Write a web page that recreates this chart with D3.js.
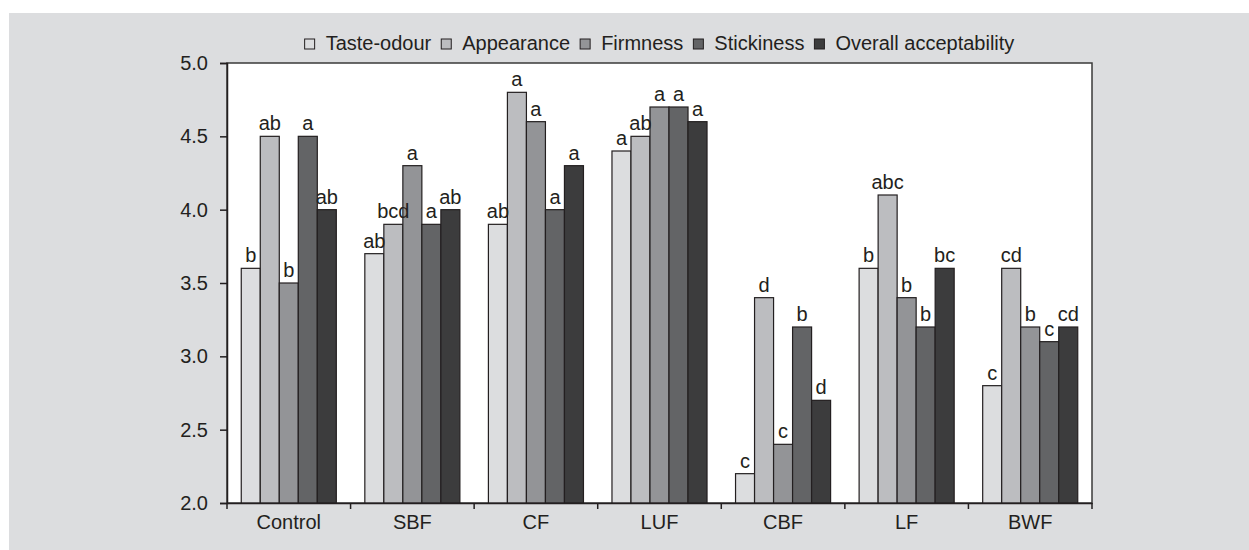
<!DOCTYPE html>
<html><head><meta charset="utf-8">
<script src="https://cdn.jsdelivr.net/npm/d3@7"></script>
<style>body{margin:0;background:#fff;} svg{display:block;font-family:"Liberation Sans",Arial,sans-serif;}</style>
</head><body>
<svg id="c" width="1249" height="550"></svg>
<script>
const categories = ["Control","SBF","CF","LUF","CBF","LF","BWF"];
const seriesNames = ["Taste-odour","Appearance","Firmness","Stickiness","Overall acceptability"];
const tasteOdour = [3.6,3.7,3.9,4.4,2.2,3.6,2.8];
const appearance = [4.5,3.9,4.8,4.5,3.4,4.1,3.6];
const firmness = [3.5,4.3,4.6,4.7,2.4,3.4,3.2];
const stickiness = [4.5,3.9,4.0,4.7,3.2,3.2,3.1];
const overall = [4.0,4.0,4.3,4.6,2.7,3.6,3.2];
const labTaste = ["b","ab","ab","a","c","b","c"];
const labAppear = ["ab","bcd","a","ab","d","abc","cd"];
const labFirm = ["b","a","a","a","c","b","b"];
const labStick = ["a","a","a","a","b","b","c"];
const labOverall = ["ab","ab","a","a","d","bc","cd"];
const yTicks = [2.0,2.5,3.0,3.5,4.0,4.5,5.0];

const values = [tasteOdour, appearance, firmness, stickiness, overall];
const labels = [labTaste, labAppear, labFirm, labStick, labOverall];
const colors = ["#dcdddf","#bcbdc0","#939497","#636466","#3c3c3d"];
const ink = "#231f20";

const svg = d3.select("#c");
svg.append("rect").attr("x",9).attr("y",13).attr("width",1240).attr("height",537).attr("fill","#dcdddf");

const m = {l:227, r:1092, t:63, b:503};
const x0 = d3.scaleBand().domain(categories).range([m.l, m.r]).paddingInner(0).paddingOuter(0);
const x1 = d3.scaleBand().domain(seriesNames).range([0, x0.bandwidth()]).paddingInner(0).paddingOuter(0.75);
const y = d3.scaleLinear().domain([2,5]).range([m.b, m.t]);

svg.append("rect").attr("x",m.l).attr("y",m.t).attr("width",m.r-m.l).attr("height",m.b-m.t)
  .attr("fill","#fff").attr("stroke","#3a3a3a").attr("stroke-width",1.5);

const data = [];
categories.forEach((c,i)=>seriesNames.forEach((s,j)=>data.push({c,s,j,v:values[j][i],lab:labels[j][i]})));

svg.append("g").selectAll("rect").data(data).join("rect")
  .attr("x",d=>x0(d.c)+x1(d.s)).attr("y",d=>y(d.v))
  .attr("width",x1.bandwidth()).attr("height",d=>y(2)-y(d.v))
  .attr("fill",d=>colors[d.j]).attr("stroke",ink).attr("stroke-width",1.2);

svg.append("g").selectAll("text").data(data).join("text")
  .attr("x",d=>x0(d.c)+x1(d.s)+x1.bandwidth()/2).attr("y",d=>y(d.v)-6)
  .attr("text-anchor","middle").attr("font-size",20).attr("fill",ink).text(d=>d.lab);

// y axis
const ya = svg.append("g").attr("transform",`translate(${m.l},0)`)
  .call(d3.axisLeft(y).tickValues(yTicks).tickFormat(d3.format(".1f")).tickSize(7).tickPadding(12));
ya.select(".domain").attr("stroke",ink).attr("stroke-width",1.5);
ya.selectAll(".tick line").attr("stroke",ink).attr("stroke-width",1.5);
ya.selectAll("text").attr("font-size",20).attr("fill",ink).attr("font-family","Liberation Sans, Arial, sans-serif");

// x axis
const xa = svg.append("g").attr("transform",`translate(0,${m.b})`)
  .call(d3.axisBottom(x0).tickSize(0).tickPadding(12));
xa.select(".domain").attr("stroke",ink).attr("stroke-width",1.5);
xa.selectAll("text").attr("font-size",20).attr("fill",ink).attr("font-family","Liberation Sans, Arial, sans-serif");
const bounds = categories.map(c=>x0(c)).concat([m.r]);
xa.selectAll("line.sep").data(bounds).join("line").attr("class","sep")
  .attr("x1",d=>d).attr("x2",d=>d).attr("y1",0).attr("y2",6).attr("stroke",ink).attr("stroke-width",1.5);

// legend
const lg = svg.append("g");
let cx = 0;
seriesNames.forEach((s,j)=>{
  const g = lg.append("g").attr("transform",`translate(${cx},0)`);
  g.append("rect").attr("x",0).attr("y",-11).attr("width",10).attr("height",10)
    .attr("fill",colors[j]).attr("stroke",ink).attr("stroke-width",1);
  const t = g.append("text").attr("x",21).attr("y",0).attr("font-size",20).attr("fill",ink).text(s);
  cx += 21 + t.node().getComputedTextLength() + 10;
});
const lw = cx - 10;
lg.attr("transform",`translate(${(m.l+m.r)/2 - lw/2},50)`);
</script>
</body></html>
